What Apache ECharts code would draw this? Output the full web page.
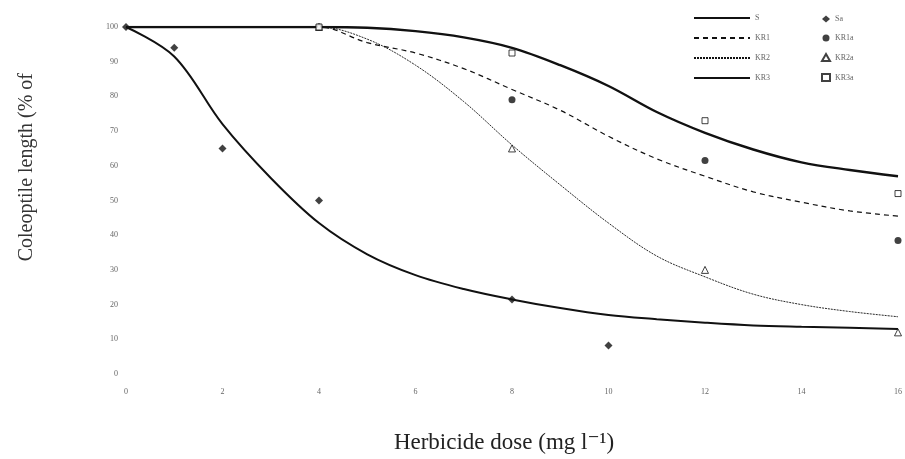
<!DOCTYPE html>
<html>
<head>
<meta charset="utf-8">
<script src="https://cdn.jsdelivr.net/npm/echarts@6/dist/echarts.min.js"></script>
<style>
  html, body { margin: 0; padding: 0; background: #fff; }
  #chart { width: 905px; height: 459px; }
</style>
</head>
<body>
<div id="chart"></div>
<script>
// fitted curves, read at whole doses 0..16 mg/l
var fitDose = [0, 1, 2, 3, 4, 5, 6, 7, 8, 9, 10, 11, 12, 13, 14, 15, 16]
var fitS   = [100, 91.5, 72, 56.5, 43.5, 34.5, 28.5, 24.5, 21.5, 19, 17, 15.8, 14.8, 14, 13.6, 13.3, 13]
var fitKR1 = [100, 100, 100, 100, 100, 95.5, 92.5, 88, 82, 76, 68.5, 62, 57, 52.5, 49.5, 47, 45.5]
var fitKR2 = [100, 100, 100, 100, 100, 96.5, 89, 78.5, 66, 54.5, 43.5, 34, 28, 23, 20, 18, 16.5]
var fitKR3 = [100, 100, 100, 100, 100, 99.8, 98.8, 97, 94, 89, 83, 75.5, 69.5, 64.7, 61, 58.8, 57]

// observed values
var doseSa = [0, 1, 2, 4, 8, 10]
var obsSa  = [100, 94, 65, 50, 21.5, 8.2]
var doseKR = [4, 8, 12, 16]
var obsKR1a = [100, 79, 61.5, 38.5]
var obsKR2a = [100, 65, 30, 12]
var obsKR3a = [100, 92.5, 73, 52]

var xTicks = [0, 2, 4, 6, 8, 10, 12, 14, 16]

function pairs(xs, ys) {
  var out = []
  for (var i = 0; i < xs.length; i++) out.push([xs[i], ys[i]])
  return out
}

var chart = echarts.init(document.getElementById('chart'))
var serif = '"Liberation Serif", "DejaVu Serif", serif'
var lineSeries = function (name, ys, width, type) {
  return {
    name: name, type: 'line', data: pairs(fitDose, ys), smooth: 0.35,
    symbol: 'none', silent: true, z: 2,
    lineStyle: {color: '#111', width: width, type: type},
    itemStyle: {color: '#111'}
  }
}
var dotSeries = function (name, xs, ys, symbol, size, filled) {
  return {
    name: name, type: 'scatter', data: pairs(xs, ys), symbol: symbol, symbolSize: size, z: 3,
    itemStyle: filled ? {color: '#111'} : {color: '#fff', borderColor: '#111', borderWidth: 1}
  }
}

chart.setOption({
  animation: false,
  backgroundColor: '#fff',
  textStyle: {fontFamily: serif},
  grid: {left: 126, right: 7, top: 27, bottom: 78},
  legend: [{
    data: ['S', 'KR1', 'KR2', 'KR3'],
    orient: 'vertical', left: 688, top: 9,
    itemWidth: 56, itemHeight: 10, itemGap: 12,
    itemStyle: {color: 'rgba(0,0,0,0)', borderColor: 'rgba(0,0,0,0)', borderWidth: 0},
    textStyle: {fontSize: 8, color: '#666', fontFamily: serif}
  }, {
    data: ['Sa', 'KR1a', 'KR2a', 'KR3a'],
    orient: 'vertical', left: 816, top: 10,
    itemWidth: 8, itemHeight: 7, itemGap: 11,
    textStyle: {fontSize: 8, color: '#666', fontFamily: serif}
  }],
  graphic: [{
    type: 'text', left: 17, top: 73, rotation: Math.PI / 2,
    style: {text: 'Coleoptile length (% of', fontSize: 20, fill: '#333', fontFamily: serif}
  }],
  xAxis: {
    type: 'value', min: 0, max: 16, interval: 2,
    name: 'Herbicide dose (mg l\u207B\u00B9)', nameLocation: 'middle', nameGap: 57,
    nameTextStyle: {fontSize: 23, color: '#222', fontFamily: serif, padding: [0, 16, 0, 0]},
    axisLine: {show: false}, axisTick: {show: false}, splitLine: {show: false},
    axisLabel: {fontSize: 8, color: '#666', margin: 14,
      formatter: function (v) { return xTicks.indexOf(v) >= 0 ? String(v) : '' }}
  },
  yAxis: {
    type: 'value', min: 0, max: 100, interval: 10,
    axisLine: {show: false}, axisTick: {show: false}, splitLine: {show: false},
    axisLabel: {fontSize: 8, color: '#666', margin: 8}
  },
  series: [
    lineSeries('S', fitS, 2, 'solid'),
    lineSeries('KR1', fitKR1, 1.2, [5, 4]),
    lineSeries('KR2', fitKR2, 0.9, [2, 1]),
    lineSeries('KR3', fitKR3, 2.4, 'solid'),
    dotSeries('Sa', doseSa, obsSa, 'diamond', 8, true),
    dotSeries('KR1a', doseKR, obsKR1a, 'circle', 7, true),
    dotSeries('KR2a', doseKR, obsKR2a, 'triangle', 7, false),
    dotSeries('KR3a', doseKR, obsKR3a, 'rect', 6, false)
  ]
})
</script>
</body>
</html>
